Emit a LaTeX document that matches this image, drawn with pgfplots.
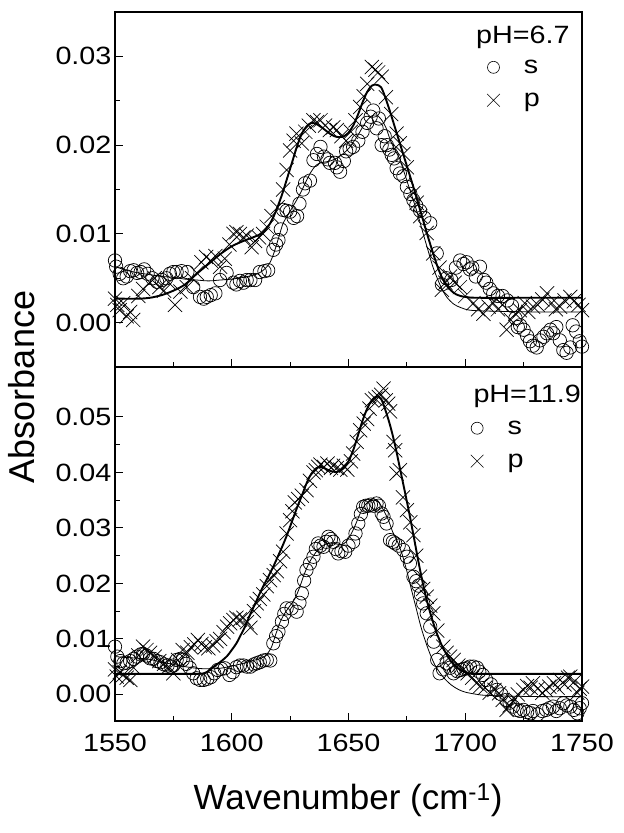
\documentclass[border=0pt]{standalone}
\usepackage{fontspec}
\setmainfont{Liberation Sans}
\newfontfamily\tickfont{Liberation Sans}[FakeStretch=1.15]
\usepackage{pgfplots}
\pgfplotsset{compat=1.18}
\begin{document}
\begin{tikzpicture}
\useasboundingbox (-115pt,-112pt) rectangle (509pt,721pt);
\pgfplotsset{
  panel/.style={
    scale only axis, width=467pt, xmin=1550, xmax=1750,
    axis line style={line width=1.3pt},
    every tick/.style={line width=1.1pt, black},
    major tick length=8pt, minor tick length=5pt,
    tick pos=left, tick align=inside,
    xtick={1550,1600,...,1750}, minor x tick num=1, minor y tick num=1,
    ticklabel style={font=\tickfont\fontsize{25}{30}\selectfont},
    x tick label style={yshift=-10pt, /pgf/number format/1000 sep={}},
    /pgf/number format/assume math mode=true,
    y tick label style={/pgf/number format/.cd, fixed, fixed zerofill, precision=2, /tikz/.cd},
    scaled y ticks=false,
    legend style={draw=none, fill=none, font=\tickfont\fontsize{25}{30}\selectfont, row sep=14pt,
      /tikz/every odd column/.append style={column sep=22pt}},
    legend cell align=left,
  },
  pts/.style={only marks, mark size=6.7pt, line width=0.7pt, black, mark options={fill=none}},
  xpts/.style={only marks, mark size=10pt, line width=0.7pt, black},
  thickfit/.style={no marks, black, line width=1.9pt, smooth},
  thinfit/.style={no marks, black, line width=0.8pt, smooth},
}
% ---------------- bottom panel: pH 11.9
\begin{axis}[panel, at={(0pt,0pt)}, anchor=south west, height=354pt,
  ymin=-0.0048, ymax=0.059, ytick={0,0.01,0.02,0.03,0.04,0.05},
  legend style={at={(rel axis cs:0.755,0.86)}, anchor=north west}]
\addplot[pts, mark=o, forget plot] coordinates {
(1550,0.0086)(1551,0.0068)(1552.3,0.0060)(1553.6,0.0056)(1555,0.0057)(1556.5,0.0060)(1558,0.0064)(1559.4,0.0068)
(1561,0.0072)(1562,0.0073)(1563.5,0.0070)(1565,0.0065)(1566.5,0.0064)(1568,0.0060)(1569.5,0.0058)(1571,0.0054)
(1572.5,0.0052)(1574,0.0050)(1575,0.0052)(1576.4,0.0062)(1578,0.0064)(1579,0.0062)(1580.5,0.0055)(1582,0.0048)
(1583.5,0.0038)(1585,0.0029)(1586.5,0.0026)(1588,0.0026)(1589.5,0.0028)(1591,0.0031)(1592.5,0.0038)(1594,0.0044)
(1595.5,0.0046)(1597,0.0047)(1599,0.0035)(1600.5,0.0040)(1602,0.0049)(1603.5,0.0052)(1605,0.0052)(1606.5,0.0050)
(1608,0.0050)(1609.5,0.0054)(1610.7,0.0056)(1612,0.0058)(1613.6,0.0061)(1615,0.0062)(1616.5,0.0061)(1617.8,0.0092)
(1619,0.0105)(1620,0.0113)(1621.5,0.0131)(1622.5,0.0145)(1623.5,0.0155)(1625.6,0.0155)(1627.8,0.0149)(1629,0.0165)
(1630,0.0182)(1631,0.0205)(1632,0.0224)(1633.5,0.0236)(1635,0.0248)(1636,0.0262)(1637,0.0272)(1638,0.0268)
(1639.3,0.0266)(1640.5,0.0275)(1641.4,0.0284)(1642.5,0.0280)(1643.5,0.0275)(1644.5,0.0262)(1645.6,0.0254)(1647,0.0258)
(1648.6,0.0257)(1650,0.0268)(1652,0.0275)(1653,0.0290)(1654.2,0.0308)(1655.3,0.0325)(1656.3,0.0338)(1657.5,0.0340)
(1658.5,0.0340)(1659.6,0.0342)(1660.7,0.0340)(1662,0.0344)(1663,0.0340)(1664.2,0.0326)(1665,0.0320)(1666.3,0.0308)
(1667.8,0.0278)(1669,0.0275)(1670,0.0272)(1671.5,0.0268)(1673.5,0.0260)(1675,0.0248)(1676.3,0.0236)(1677.8,0.0212)
(1679,0.0204)(1680,0.0196)(1681,0.0180)(1682,0.0164)(1683.5,0.0146)(1685,0.0122)(1686.5,0.0095)(1688,0.0062)
(1689,0.0038)(1690.5,0.0045)(1692,0.0056)(1693.5,0.0048)(1695,0.0038)(1696.5,0.0042)(1698,0.0044)(1699.3,0.0046)
(1700.6,0.0047)(1702,0.0050)(1703.5,0.0050)(1705,0.0048)(1706,0.0041)(1707.5,0.0035)(1709,0.0026)(1711,0.0018)
(1713.5,0.0008)(1715.5,0.0000)(1717.7,-0.0010)(1719,-0.0015)(1720.5,-0.0022)(1722,-0.0028)(1723.5,-0.0030)(1724.9,-0.0028)
(1726.5,-0.0032)(1728,-0.0034)(1729,-0.0030)(1731,-0.0036)(1733,-0.0030)(1734.6,-0.0028)(1736,-0.0025)(1737.6,-0.0022)
(1739,-0.0030)(1740.5,-0.0025)(1742,-0.0016)(1743.5,-0.0020)(1745,-0.0022)(1746.5,-0.0028)(1748,-0.0034)(1749,-0.0025)
(1750,-0.0016)};
\addplot[xpts, mark=x, forget plot] coordinates {
(1550,0.0045)(1550.7,0.0032)(1552,0.0040)(1553.5,0.0035)(1555,0.0030)(1556.6,0.0026)(1558,0.0048)(1560,0.0070)
(1562,0.0086)(1563.5,0.0080)(1565,0.0075)(1567,0.0068)(1569,0.0060)(1571,0.0055)(1573,0.0050)(1575,0.0038)
(1577,0.0062)(1579,0.0080)(1581,0.0075)(1582.5,0.0085)(1584,0.0090)(1585.5,0.0098)(1587,0.0091)(1588.5,0.0085)
(1590,0.0083)(1592,0.0088)(1593.5,0.0096)(1595,0.0100)(1596.5,0.0112)(1598,0.0122)(1599.3,0.0128)(1600.7,0.0134)
(1602,0.0138)(1603.5,0.0135)(1605,0.0138)(1606.5,0.0130)(1608,0.0120)(1609.5,0.0150)(1610.7,0.0164)(1612,0.0172)
(1613.5,0.0180)(1615,0.0195)(1616.4,0.0206)(1618,0.0215)(1619.3,0.0222)(1620.7,0.0240)(1622,0.0257)(1623.5,0.0290)
(1625,0.0314)(1626,0.0330)(1627,0.0346)(1628.5,0.0352)(1630,0.0358)(1632,0.0368)(1633.5,0.0385)(1635,0.0400)
(1636,0.0404)(1637,0.0410)(1638,0.0414)(1639.5,0.0410)(1641,0.0416)(1642.5,0.0408)(1643.4,0.0412)(1645,0.0408)
(1646.5,0.0405)(1648,0.0412)(1649.5,0.0405)(1651,0.0420)(1652,0.0434)(1653.5,0.0455)(1655,0.0476)(1656.5,0.0488)
(1658,0.0496)(1659,0.0515)(1660,0.0530)(1661.5,0.0533)(1663,0.0536)(1664,0.0540)(1665,0.0551)(1666,0.0530)
(1667,0.0524)(1667.8,0.0510)(1669.3,0.0455)(1670,0.0440)(1670.6,0.0398)(1672,0.0404)(1673.3,0.0355)(1675,0.0332)
(1676.5,0.0310)(1677.8,0.0287)(1679,0.0250)(1680.6,0.0212)(1682,0.0190)(1683.5,0.0176)(1685,0.0160)(1686.3,0.0146)
(1688,0.0115)(1690.6,0.0086)(1692,0.0075)(1693.5,0.0068)(1695,0.0062)(1697,0.0052)(1699,0.0044)(1701,0.0038)
(1703,0.0030)(1704.8,0.0020)(1706.5,0.0015)(1708.5,0.0012)(1710.5,0.0003)(1712.5,0.0008)(1714.5,0.0002)(1716,-0.0010)
(1717.7,-0.0028)(1719,-0.0020)(1720.5,-0.0012)(1722.5,0.0000)(1724.9,0.0008)(1726.5,0.0015)(1728,0.0012)(1729,0.0020)
(1731,0.0010)(1733,0.0003)(1734.5,0.0008)(1736,0.0014)(1738,0.0020)(1739.5,0.0012)(1740.6,0.0026)(1742.5,0.0018)
(1744,0.0030)(1745,0.0032)(1746.5,0.0022)(1748,0.0003)(1749,0.0010)(1750,0.0014)};
\addplot[thinfit, forget plot] coordinates {
(1550,0.0068)(1560,0.0065)(1565,0.0063)(1570,0.0058)(1575,0.0054)(1580,0.0050)(1585,0.0047)(1590,0.0046)
(1595,0.0047)(1600,0.0051)(1605,0.0056)(1610,0.0062)(1613,0.0066)(1615,0.0072)(1617,0.0085)(1619,0.0110)
(1621,0.0133)(1623,0.0148)(1625,0.0160)(1627,0.0172)(1629,0.0192)(1631,0.0216)(1633,0.0236)(1635,0.0250)
(1637,0.0261)(1639,0.0268)(1641,0.0272)(1643,0.0273)(1645,0.0271)(1647,0.0270)(1649,0.0275)(1651,0.0288)
(1653,0.0306)(1655,0.0326)(1657,0.0341)(1659,0.0348)(1661,0.0350)(1663,0.0346)(1665,0.0332)(1667,0.0315)
(1669,0.0292)(1671,0.0275)(1673,0.0252)(1675,0.0222)(1677,0.0188)(1679,0.0155)(1681,0.0122)(1683,0.0095)
(1685,0.0072)(1687,0.0053)(1689,0.0040)(1691,0.0029)(1694,0.0017)(1697,0.0009)(1700,0.0004)(1705,0.0000)
(1710,-0.0002)(1730,-0.0004)(1750,-0.0004)};
\addplot[thickfit, forget plot] coordinates {
(1550,0.0037)(1570,0.0037)(1585,0.0037)(1588,0.0038)(1590,0.0042)(1592,0.0049)(1595,0.0058)(1598,0.0069)
(1600,0.0080)(1602,0.0092)(1604,0.0108)(1606,0.0125)(1608,0.0145)(1610,0.0163)(1612,0.0182)(1614,0.0199)
(1616,0.0215)(1618,0.0232)(1620,0.0251)(1622,0.0270)(1624,0.0291)(1626,0.0314)(1628,0.0337)(1630,0.0358)
(1632,0.0380)(1634,0.0397)(1636,0.0407)(1638,0.0410)(1640,0.0407)(1642,0.0403)(1644,0.0401)(1646,0.0402)
(1648,0.0408)(1650,0.0420)(1652,0.0440)(1654,0.0466)(1656,0.0493)(1658,0.0515)(1660,0.0530)(1662,0.0537)
(1664,0.0532)(1666,0.0510)(1668,0.0482)(1670,0.0448)(1672,0.0408)(1674,0.0368)(1676,0.0327)(1678,0.0283)
(1680,0.0238)(1682,0.0197)(1684,0.0162)(1686,0.0133)(1688,0.0108)(1690,0.0088)(1692,0.0072)(1694,0.0059)
(1696,0.0050)(1698,0.0044)(1700,0.0040)(1703,0.0037)(1730,0.0037)(1750,0.0037)};
\addlegendimage{only marks, mark=o, mark size=6pt, line width=0.6pt, black}
\addlegendentry{s}
\addlegendimage{only marks, mark=x, mark size=9pt, line width=0.6pt, black}
\addlegendentry{p}
\node[anchor=north east, inner sep=0pt, font=\tickfont\fontsize{25}{30}\selectfont] at (rel axis cs:0.998,0.95) {pH=11.9};
\end{axis}
% ---------------- top panel: pH 6.7
\begin{axis}[panel, at={(0pt,354pt)}, anchor=south west, height=355pt,
  ymin=-0.005, ymax=0.035, ytick={0,0.01,0.02,0.03}, xticklabels={},
  legend style={at={(rel axis cs:0.79,0.877)}, anchor=north west}]
\addplot[pts, mark=o, forget plot] coordinates {
(1550,0.0070)(1550.5,0.0063)(1552,0.0055)(1553.5,0.0050)(1555,0.0052)(1556.5,0.0058)(1558,0.0059)(1559.5,0.0056)
(1561,0.0057)(1562.5,0.0060)(1564,0.0055)(1566,0.0050)(1568,0.0046)(1570,0.0048)(1572,0.0050)(1573.5,0.0055)
(1575,0.0057)(1576.4,0.0057)(1578.5,0.0058)(1581,0.0057)(1583.5,0.0040)(1586.4,0.0029)(1588,0.0027)(1589.3,0.0029)
(1591,0.0031)(1593,0.0033)(1595,0.0048)(1597.8,0.0056)(1600.7,0.0045)(1602,0.0043)(1603.5,0.0047)(1605,0.0045)
(1606.4,0.0048)(1608,0.0048)(1610,0.0048)(1612,0.0057)(1614,0.0058)(1615.6,0.0059)(1617.8,0.0082)(1619,0.0088)
(1620,0.0093)(1621,0.0105)(1622,0.0127)(1623.5,0.0126)(1625,0.0125)(1626.5,0.0118)(1628,0.0120)(1629,0.0134)
(1630.5,0.0150)(1631.4,0.0157)(1633.5,0.0160)(1635,0.0183)(1636.5,0.0190)(1638,0.0198)(1639.5,0.0187)(1641,0.0184)
(1642,0.0180)(1644.2,0.0180)(1645,0.0175)(1646.4,0.0170)(1648,0.0182)(1649,0.0193)(1650.5,0.0196)(1652,0.0198)
(1654.2,0.0205)(1656,0.0215)(1658,0.0225)(1659.5,0.0232)(1660.6,0.0239)(1662,0.0219)(1663,0.0230)(1664.2,0.0200)
(1665.5,0.0210)(1666.4,0.0200)(1667.5,0.0195)(1668.5,0.0189)(1669.5,0.0185)(1670.6,0.0174)(1672,0.0168)(1673.5,0.0165)
(1675,0.0153)(1676.5,0.0145)(1677.8,0.0138)(1679,0.0132)(1680.7,0.0126)(1682.5,0.0118)(1685,0.0112)(1687.8,0.0078)
(1690,0.0043)(1692,0.0050)(1694,0.0048)(1696,0.0062)(1697.8,0.0070)(1699.2,0.0066)(1700.6,0.0068)(1702,0.0060)
(1703,0.0062)(1704.5,0.0052)(1706.3,0.0063)(1708,0.0048)(1709,0.0045)(1710.5,0.0038)(1712,0.0033)(1714,0.0030)
(1716,0.0030)(1718,0.0025)(1720,0.0019)(1721.5,0.0005)(1722.5,-0.0005)(1723.5,-0.0003)(1725,-0.0008)(1726.5,-0.0015)
(1727.7,-0.0021)(1729,-0.0026)(1730.6,-0.0028)(1732,-0.0020)(1733.5,-0.0016)(1735,-0.0012)(1736.5,-0.0008)(1737.7,-0.0012)
(1739,-0.0005)(1740.5,-0.0020)(1742,-0.0031)(1743.4,-0.0034)(1745,-0.0028)(1746,-0.0003)(1747.5,-0.0010)(1749,-0.0021)
(1750,-0.0027)};
\addplot[xpts, mark=x, forget plot] coordinates {
(1550,0.0027)(1551,0.0020)(1552,0.0014)(1553.5,0.0022)(1555,0.0007)(1556.5,0.0012)(1557.8,0.0003)(1560,0.0030)
(1562,0.0038)(1565,0.0045)(1567,0.0050)(1569,0.0040)(1571,0.0036)(1573,0.0045)(1575.7,0.0020)(1578,0.0035)
(1580.7,0.0040)(1583,0.0050)(1585,0.0056)(1587,0.0068)(1589,0.0074)(1591,0.0070)(1593,0.0075)(1595,0.0063)
(1597,0.0072)(1599,0.0088)(1600.7,0.0100)(1602,0.0102)(1603.5,0.0100)(1605,0.0096)(1606.4,0.0098)(1608.5,0.0085)
(1610,0.0092)(1611.7,0.0096)(1613.4,0.0100)(1615,0.0108)(1617,0.0120)(1619.6,0.0130)(1622,0.0150)(1623.5,0.0172)
(1625,0.0194)(1626.5,0.0205)(1627.7,0.0213)(1630,0.0202)(1631.5,0.0215)(1633,0.0222)(1635,0.0228)(1636.5,0.0226)
(1638,0.0228)(1640,0.0222)(1642,0.0217)(1643.5,0.0220)(1645,0.0217)(1647,0.0210)(1649,0.0205)(1651,0.0215)
(1653,0.0228)(1655,0.0243)(1656.5,0.0255)(1658,0.0269)(1660,0.0288)(1661.5,0.0285)(1662.7,0.0282)(1664.2,0.0277)
(1666,0.0254)(1668.3,0.0235)(1670.6,0.0213)(1672,0.0202)(1673.5,0.0190)(1675,0.0175)(1677.8,0.0146)(1679.2,0.0135)
(1680.7,0.0120)(1683.5,0.0101)(1686.3,0.0078)(1689,0.0062)(1690,0.0037)(1691.5,0.0045)(1693.5,0.0052)(1695.5,0.0045)
(1697.7,0.0040)(1700,0.0030)(1703.5,0.0022)(1705.5,0.0015)(1707.8,0.0010)(1710,0.0018)(1712,0.0022)(1714,0.0015)
(1716,0.0020)(1717.7,-0.0008)(1719.5,0.0003)(1721.5,0.0010)(1723.4,0.0014)(1725.5,0.0022)(1727,0.0012)(1729,0.0018)
(1731,0.0020)(1733,0.0026)(1735,0.0033)(1737,0.0022)(1738.8,0.0015)(1740.6,0.0018)(1742.5,0.0025)(1745,0.0029)
(1746.5,0.0024)(1748.5,0.0020)(1750,0.0014)};
\addplot[thinfit, forget plot] coordinates {
(1550,0.0063)(1555,0.0059)(1560,0.0056)(1565,0.0054)(1570,0.0052)(1575,0.0051)(1580,0.0049)(1585,0.0048)
(1590,0.0047)(1595,0.0048)(1600,0.0049)(1605,0.0051)(1610,0.0054)(1613,0.0058)(1616,0.0066)(1618,0.0078)
(1620,0.0095)(1622,0.0112)(1624,0.0121)(1626,0.0130)(1628,0.0139)(1630,0.0149)(1632,0.0160)(1634,0.0170)
(1636,0.0177)(1638,0.0180)(1640,0.0181)(1642,0.0182)(1644,0.0184)(1646,0.0187)(1648,0.0191)(1650,0.0196)
(1652,0.0203)(1654,0.0211)(1656,0.0220)(1658,0.0228)(1660,0.0233)(1662,0.0234)(1664,0.0229)(1666,0.0220)
(1668,0.0205)(1670,0.0194)(1672,0.0184)(1674,0.0168)(1676,0.0152)(1678,0.0136)(1680,0.0119)(1682,0.0100)
(1684,0.0082)(1686,0.0064)(1688,0.0050)(1690,0.0038)(1692,0.0029)(1695,0.0021)(1698,0.0017)(1702,0.0014)
(1710,0.0013)(1730,0.0012)(1750,0.0012)};
\addplot[thickfit, forget plot] coordinates {
(1550,0.0027)(1560,0.0027)(1565,0.0028)(1570,0.0031)(1575,0.0036)(1580,0.0043)(1585,0.0055)(1590,0.0066)
(1595,0.0077)(1600,0.0086)(1605,0.0092)(1610,0.0097)(1613,0.0101)(1616,0.0110)(1618,0.0120)(1620,0.0133)
(1622,0.0148)(1624,0.0165)(1626,0.0182)(1628,0.0199)(1630,0.0213)(1632,0.0221)(1634,0.0225)(1636,0.0224)
(1638,0.0221)(1640,0.0217)(1642,0.0213)(1644,0.0210)(1646,0.0209)(1648,0.0210)(1650,0.0214)(1652,0.0222)
(1654,0.0234)(1656,0.0248)(1658,0.0260)(1660,0.0267)(1662,0.0268)(1664,0.0265)(1666,0.0252)(1668,0.0236)
(1670,0.0219)(1672,0.0202)(1674,0.0185)(1676,0.0168)(1678,0.0151)(1680,0.0133)(1682,0.0115)(1684,0.0097)
(1686,0.0080)(1688,0.0064)(1690,0.0051)(1692,0.0042)(1694,0.0036)(1696,0.0032)(1698,0.0030)(1700,0.0029)
(1705,0.0028)(1730,0.0028)(1750,0.0028)};
\addlegendimage{only marks, mark=o, mark size=6pt, line width=0.6pt, black}
\addlegendentry{s}
\addlegendimage{only marks, mark=x, mark size=9pt, line width=0.6pt, black}
\addlegendentry{p}
\node[anchor=north east, inner sep=0pt, font=\tickfont\fontsize{25}{30}\selectfont] at (rel axis cs:0.974,0.962) {pH=6.7};
\end{axis}
\node[rotate=90, font=\fontsize{36}{42}\selectfont] at (-93pt,334pt) {Absorbance};
\node[font=\fontsize{35}{42}\selectfont] at (233pt,-79pt) {Wavenumber (cm\textsuperscript{-1})};
\end{tikzpicture}
\end{document}
